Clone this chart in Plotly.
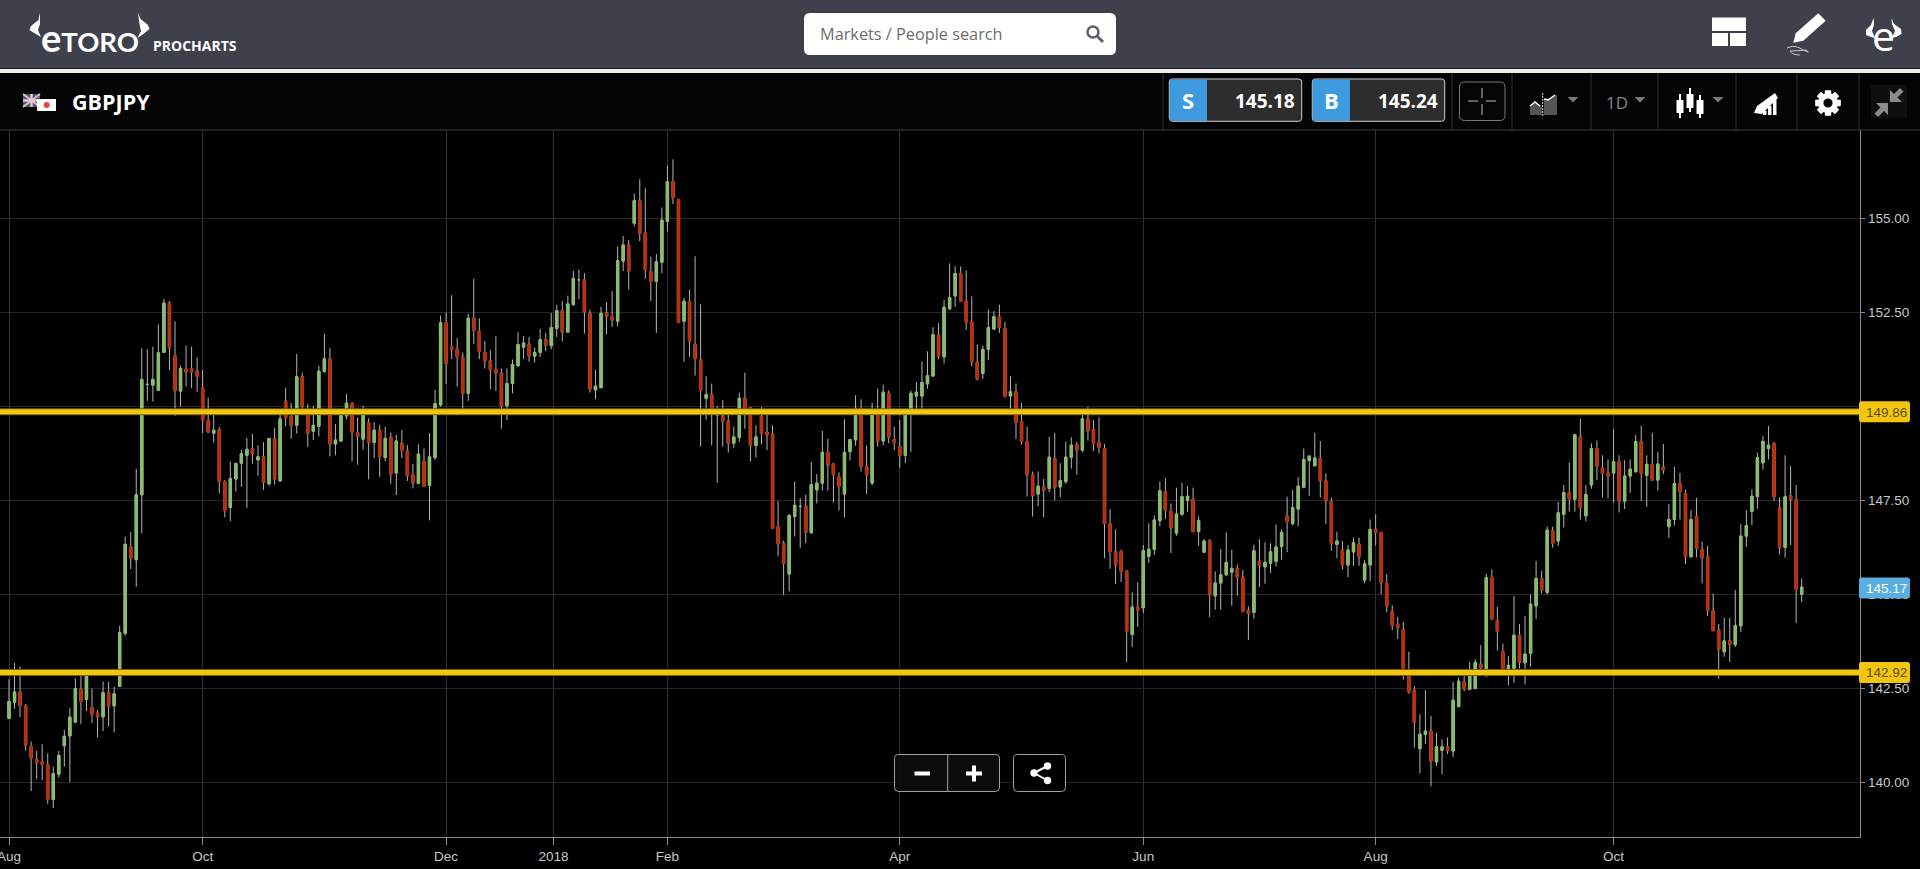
import math
import plotly.graph_objects as go

instrument = "GBPJPY"
sell_price = "145.18"
buy_price = "145.24"
level_upper = 149.86
level_lower = 142.92
last_price = 145.17

price_ticks = [140.0, 142.5, 145.0, 147.5, 150.0, 152.5, 155.0]
price_tick_labels = ["140.00", "142.50", "145.00", "147.50", "", "152.50", "155.00"]
date_tick_labels = ["Aug", "Oct", "Dec", "2018", "Feb", "Apr", "Jun", "Aug", "Oct"]
date_tick_candles = [0, 35, 79, 98.4, 119, 161, 205, 247, 290]

opens = [
141.70,142.13,142.40,142.03,140.95,140.61,140.54,140.46,139.54,140.21,
140.97,141.23,141.60,142.48,142.20,141.99,141.84,141.74,142.38,142.03,
142.55,143.96,146.26,145.92,147.65,150.59,150.57,150.43,151.44,152.75,
151.35,150.41,151.0,151.0,150.94,150.50,149.63,149.29,149.38,148.0,
147.31,148.07,148.49,148.70,148.87,148.58,148.66,147.94,149.14,148.02,
150.14,149.73,149.50,150.79,149.90,149.34,149.47,150.93,151.27,149.0,
149.08,149.75,150.07,149.31,149.13,149.57,149.04,149.37,148.64,149.18,
148.23,149.02,148.82,148.18,147.95,148.53,147.90,148.64,150.04,152.23,
151.58,151.52,151.32,150.35,152.35,152.0,151.44,151.21,150.98,150.89,
150.02,150.61,151.08,151.58,151.66,151.34,151.44,151.78,151.62,152.08,
152.55,151.98,152.71,153.37,153.37,152.48,150.44,150.50,152.49,152.39,
152.27,153.87,154.30,154.88,155.48,154.62,153.59,153.33,153.84,154.93,
155.99,155.51,152.27,152.80,151.65,151.24,150.22,150.32,149.78,149.75,
149.61,149.02,149.18,150.22,149.97,148.96,149.74,149.32,149.27,146.80,
146.36,145.54,147.07,147.34,147.35,146.64,147.78,147.96,148.78,148.47,
148.13,147.67,148.80,149.11,149.95,148.40,147.96,149.81,149.08,150.35,
149.12,148.93,148.70,149.81,150.28,150.28,150.60,150.81,151.91,151.32,
152.60,152.94,153.54,152.80,152.26,151.18,150.88,151.52,152.06,152.39,
152.07,150.28,150.39,149.60,149.07,148.18,147.67,147.86,147.82,148.62,
147.86,148.0,148.65,148.97,148.84,149.67,149.39,149.04,148.88,146.88,
146.13,146.14,145.62,143.93,144.66,144.64,146.01,146.20,146.96,147.73,
147.21,146.63,147.13,147.50,147.53,146.67,146.12,146.43,144.96,145.30,
145.52,145.59,145.68,145.46,144.57,144.52,145.88,145.73,145.83,145.88,
146.27,147.09,146.88,147.27,147.85,148.56,148.42,148.62,148.02,147.47,
146.33,146.18,145.78,146.13,146.34,145.38,145.78,146.73,146.65,145.29,
144.55,144.20,144.07,142.94,142.45,140.89,141.27,141.36,140.54,140.85,
140.94,140.83,142.01,142.67,142.47,142.49,143.14,143.02,145.45,144.30,
143.47,142.85,143.03,143.91,143.18,143.43,144.69,145.42,145.05,146.69,
146.42,147.13,147.71,147.53,149.19,147.09,147.91,148.88,148.36,148.23,
148.23,148.53,147.48,148.15,148.26,149.07,148.17,148.46,148.04,148.39,
146.80,146.99,147.95,147.68,146.0,147.08,146.19,146.0,144.56,144.05,
143.47,143.76,143.66,144.16,146.55,147.21,147.60,148.50,148.88,149.01,
147.31,146.25,147.62,147.52,145.0]

closes = [
142.15,142.40,142.04,140.98,140.64,140.52,140.47,139.54,140.23,140.71,
141.22,141.73,142.49,142.15,142.89,141.81,141.74,142.38,142.03,142.35,
143.98,146.33,145.96,147.65,150.72,150.59,150.72,151.43,152.75,151.56,
150.42,151.01,150.92,150.92,150.80,149.64,149.32,149.37,148.0,147.23,
148.08,148.48,148.74,148.86,148.75,148.66,147.98,149.15,148.07,149.67,
149.70,149.50,150.79,149.99,149.29,149.50,150.94,151.27,149.0,149.11,
149.76,150.09,149.32,149.20,149.79,149.04,149.37,148.67,149.15,148.21,
149.08,148.83,148.16,147.97,148.73,147.88,148.66,150.08,152.23,151.15,
151.51,151.32,150.35,152.35,152.02,151.47,151.21,150.98,150.89,150.0,
150.61,151.12,151.65,151.69,151.35,151.44,151.78,151.63,152.10,152.55,
151.98,152.73,153.41,153.37,152.52,150.46,150.54,152.48,152.40,152.30,
153.88,154.30,153.61,155.48,154.61,153.64,153.33,153.85,154.96,155.98,
155.56,152.24,152.80,151.73,151.28,150.42,150.32,149.90,149.78,149.61,
149.02,149.19,150.22,149.97,148.96,149.19,149.30,149.24,146.76,146.34,
145.82,147.10,147.37,147.34,146.65,147.92,147.96,148.78,148.44,148.18,
147.87,148.78,149.12,149.95,148.40,148.18,149.81,149.08,150.38,149.18,
149.04,148.70,149.81,150.35,150.38,150.64,150.82,151.91,151.34,152.64,
152.90,153.54,152.80,152.24,151.19,150.73,151.52,152.10,152.39,152.10,
150.27,150.39,149.58,149.07,148.18,147.62,147.88,147.77,148.65,147.85,
148.03,148.65,148.97,148.84,149.67,149.35,149.02,148.91,146.88,146.14,
145.78,145.61,144.01,144.66,144.58,146.16,146.20,146.98,147.76,147.25,
146.77,147.14,147.60,147.61,146.67,146.96,146.42,144.99,145.30,145.52,
145.85,145.69,145.46,144.55,144.49,146.16,145.77,145.85,146.13,146.26,
146.65,146.94,147.31,147.88,148.59,148.68,148.63,148.02,147.49,146.36,
146.42,145.78,146.18,146.37,146.0,145.81,146.73,146.65,145.31,144.69,
144.17,144.12,142.94,142.40,141.59,141.28,141.36,140.56,140.94,140.94,
140.85,142.18,142.69,142.48,142.98,143.19,143.04,145.44,144.35,144.02,
142.98,143.11,143.91,143.19,143.41,144.74,145.42,145.11,146.71,146.35,
147.17,147.71,147.54,149.25,147.31,147.66,148.88,148.41,148.22,148.15,
148.53,147.48,148.15,148.33,149.07,148.22,148.46,148.04,148.47,148.31,
146.99,147.95,147.73,146.0,146.99,146.22,145.97,144.58,144.03,143.53,
143.76,143.66,144.17,146.55,146.83,147.61,148.64,149.07,148.97,147.60,
146.25,147.60,147.53,145.13,145.19]

highs = [
142.74,143.17,143.08,142.08,141.08,140.83,141.01,140.77,140.41,140.83,
141.39,141.97,142.76,142.95,143.00,142.49,141.92,142.68,142.67,142.54,
144.16,146.53,146.66,148.34,151.55,151.52,151.59,152.18,152.86,152.80,
152.27,151.09,151.62,151.59,151.30,150.97,150.24,149.83,149.46,148.04,
148.54,148.51,148.85,149.16,149.27,148.97,149.05,149.15,149.43,149.81,
150.50,150.09,151.40,150.90,150.06,150.02,151.09,151.94,151.56,149.54,
149.85,150.33,150.12,149.71,150.02,149.69,149.58,149.51,149.46,149.31,
149.24,149.37,148.97,148.47,148.99,148.88,149.29,150.44,152.42,152.50,
152.96,151.82,151.44,152.47,153.40,152.35,151.74,151.50,151.87,151.01,
151.01,151.25,151.98,151.88,151.85,151.57,152.07,151.96,152.49,152.71,
152.81,152.95,153.61,153.64,153.55,152.58,150.98,152.65,152.78,153.07,
154.26,154.54,154.43,155.67,156.05,155.81,153.99,154.06,155.30,156.41,
156.58,155.51,152.89,153.11,154.0,152.72,150.81,150.61,150.01,150.17,
149.80,149.46,150.37,150.90,149.99,149.50,149.99,149.80,149.50,147.48,
146.43,147.14,148.0,147.56,147.65,148.53,148.20,149.35,149.14,148.50,
148.25,149.66,149.14,150.30,150.19,148.96,150.10,150.48,150.58,150.43,
149.46,149.64,149.90,150.42,150.65,151.20,151.47,152.11,152.22,152.84,
153.81,153.73,153.73,153.62,152.93,151.65,151.62,152.58,152.54,152.71,
152.25,150.81,150.61,150.10,149.46,148.27,148.27,148.07,149.19,149.30,
148.49,149.06,149.18,149.06,149.81,149.99,149.64,149.71,149.0,147.27,
146.73,146.19,145.63,145.05,145.32,146.31,146.89,147.10,148.0,148.10,
147.42,147.84,147.97,147.88,147.84,147.07,146.47,146.47,145.61,146.21,
146.65,146.19,145.79,145.65,144.68,146.32,146.47,146.38,146.36,146.86,
146.73,147.60,147.78,148.12,148.88,148.69,149.30,149.08,148.22,147.58,
146.67,146.42,146.31,146.51,146.51,145.91,146.99,147.13,146.65,145.54,
144.71,144.40,144.27,143.47,142.56,141.81,142.45,141.76,141.31,141.14,
141.19,142.67,142.79,142.87,143.20,143.27,143.65,145.55,145.66,144.67,
143.69,143.35,144.96,144.21,144.42,145.0,145.89,145.63,146.80,146.80,
147.46,147.91,148.51,149.26,149.68,147.91,149.02,149.09,148.70,148.59,
149.40,148.70,148.57,148.59,149.24,149.49,148.70,149.30,148.79,149.0,
147.40,148.39,148.23,147.79,147.24,147.57,146.40,146.29,145.02,144.21,
144.38,144.37,145.11,146.87,147.24,147.79,148.77,149.21,149.48,149.06,
147.58,148.70,148.42,147.91,145.42]

lows = [
141.67,141.95,141.73,140.84,139.76,140.08,140.05,139.42,139.31,140.12,
140.41,140.0,141.57,141.55,141.89,141.57,141.19,141.36,141.48,141.33,
142.54,143.90,145.67,145.20,146.63,150.15,150.13,150.43,151.42,150.97,
149.75,150.0,150.53,150.49,150.39,149.29,149.29,149.04,147.69,147.05,
146.95,147.74,147.86,147.30,148.48,148.16,147.78,147.89,147.92,148.0,
149.47,149.14,149.28,149.77,148.92,149.11,149.20,150.90,148.67,148.70,
149.08,149.66,148.54,148.45,148.85,148.06,148.63,148.13,148.54,147.94,
147.64,148.63,148.02,147.82,147.94,147.86,146.97,148.58,150.0,150.59,
151.26,150.53,149.77,150.15,151.66,151.26,151.01,150.46,150.41,149.41,
149.64,150.35,151.08,151.26,151.19,151.17,151.32,151.47,151.52,151.85,
151.73,151.98,152.69,152.86,151.94,150.37,150.19,150.50,151.92,152.12,
152.13,153.60,153.11,154.79,154.40,153.40,152.81,151.96,153.55,154.66,
155.39,152.24,151.19,151.32,150.82,148.93,149.65,148.96,147.97,148.93,
148.77,148.90,149.06,149.41,148.53,148.64,148.99,148.84,146.74,146.01,
144.98,145.08,146.54,146.23,146.36,146.61,147.42,147.76,147.76,147.44,
147.23,147.05,148.56,148.95,148.27,147.67,147.91,148.93,148.97,149.02,
148.84,148.37,148.49,148.79,149.94,149.94,150.48,150.79,151.26,151.14,
152.58,152.65,152.78,152.04,151.07,150.70,150.73,151.23,152.04,151.96,
150.24,149.95,149.13,148.99,147.60,147.07,147.35,147.05,147.72,147.50,
147.58,147.94,148.35,148.18,148.78,149.09,148.81,148.75,145.96,145.68,
145.27,145.33,143.19,143.60,144.13,144.50,145.83,146.05,146.81,147.0,
146.10,146.56,147.09,147.20,146.65,146.29,146.12,144.39,144.59,144.59,
145.48,144.70,144.96,144.52,143.78,144.35,145.19,145.28,145.57,145.74,
145.92,146.12,146.84,146.81,147.82,147.62,148.42,147.58,146.87,146.16,
145.96,145.66,145.45,145.76,145.76,145.29,145.35,146.30,145.0,144.52,
144.05,143.81,142.73,142.36,140.92,140.23,141.01,139.89,140.43,140.21,
140.75,140.67,142.01,142.42,142.45,142.49,143.0,142.80,144.31,143.50,
142.83,142.58,142.64,143.03,142.60,143.07,144.34,145.02,144.99,146.24,
146.29,146.78,147.20,147.20,146.99,146.94,147.81,148.04,147.58,147.55,
147.44,147.18,147.27,147.70,148.26,147.48,147.33,148.04,147.76,148.20,
146.50,146.83,146.99,145.80,145.98,145.98,145.29,144.42,144.03,142.76,
143.34,143.20,143.60,144.0,146.26,146.84,147.28,148.32,148.59,147.48,
146.06,145.98,146.31,144.24,144.80]

GREEN = "#87bd6c"
RED = "#bd2c06"
WICK = "#b4b4b4"
GOLD = "#f2c60e"
W, H = 1920, 869
PL, PR, PT, PB = 0, 1860, 130, 837

xs = list(range(len(opens)))
body_idx = [i for i in xs if opens[i] != closes[i]]

fig = go.Figure()
fig.add_trace(go.Candlestick(
    x=xs, open=opens, high=highs, low=lows, close=closes,
    increasing=dict(line=dict(color=WICK, width=1), fillcolor=WICK),
    decreasing=dict(line=dict(color=WICK, width=1), fillcolor=WICK),
    hoverinfo="skip", showlegend=False))
fig.add_trace(go.Candlestick(
    x=[xs[i] for i in body_idx],
    open=[opens[i] for i in body_idx],
    high=[max(opens[i], closes[i]) for i in body_idx],
    low=[min(opens[i], closes[i]) for i in body_idx],
    close=[closes[i] for i in body_idx],
    increasing=dict(line=dict(color=GREEN, width=1), fillcolor=GREEN),
    decreasing=dict(line=dict(color=RED, width=1), fillcolor=RED),
    hoverinfo="skip", showlegend=False))


def X(p):
    return (p - PL) / (PR - PL)


def Y(p):
    return (PB - p) / (PB - PT)


def poly(pts, close=True):
    s = "M" + " L".join(f"{X(a):.5f},{Y(b):.5f}" for a, b in pts)
    return s + (" Z" if close else "")


def rpath(x0, y0, x1, y1, r):
    def P(a, b):
        return f"{X(a):.5f},{Y(b):.5f}"
    return (f"M{P(x0 + r, y0)} L{P(x1 - r, y0)} Q{P(x1, y0)} {P(x1, y0 + r)} "
            f"L{P(x1, y1 - r)} Q{P(x1, y1)} {P(x1 - r, y1)} L{P(x0 + r, y1)} "
            f"Q{P(x0, y1)} {P(x0, y1 - r)} L{P(x0, y0 + r)} Q{P(x0, y0)} {P(x0 + r, y0)} Z")


shapes = []
annots = []


def path(d, fill=None, line=None, lw=0):
    shapes.append(dict(type="path", xref="paper", yref="paper", path=d,
                       fillcolor=fill or "rgba(0,0,0,0)",
                       line=dict(color=line or "rgba(0,0,0,0)", width=lw), layer="above"))


def rect(x0, y0, x1, y1, fill=None, line=None, lw=0):
    shapes.append(dict(type="rect", xref="paper", yref="paper", x0=X(x0), x1=X(x1), y0=Y(y1), y1=Y(y0),
                       fillcolor=fill or "rgba(0,0,0,0)",
                       line=dict(color=line or "rgba(0,0,0,0)", width=lw), layer="above"))


def circ(cx, cy, r, fill=None, line=None, lw=0):
    shapes.append(dict(type="circle", xref="paper", yref="paper", x0=X(cx - r), x1=X(cx + r),
                       y0=Y(cy + r), y1=Y(cy - r), fillcolor=fill or "rgba(0,0,0,0)",
                       line=dict(color=line or "rgba(0,0,0,0)", width=lw), layer="above"))


def seg(x0, y0, x1, y1, color, lw=1):
    shapes.append(dict(type="line", xref="paper", yref="paper", x0=X(x0), x1=X(x1), y0=Y(y0), y1=Y(y1),
                       line=dict(color=color, width=lw), layer="above"))


def text(s, x, y, size, color, family="Open Sans", anchor="left", bold=False):
    annots.append(dict(xref="paper", yref="paper", x=X(x), y=Y(y), text=f"<b>{s}</b>" if bold else s,
                       showarrow=False, xanchor=anchor, yanchor="middle",
                       font=dict(family=family, size=size, color=color), borderpad=0, borderwidth=0))


# 2018 grid line is brighter than the others
shapes.append(dict(type="line", xref="x", yref="paper", x0=date_tick_candles[3], x1=date_tick_candles[3],
                   y0=0, y1=1, line=dict(color="#565656", width=1), layer="below"))

# support and resistance lines
for lvl in (level_upper, level_lower):
    shapes.append(dict(type="line", xref="paper", yref="y", x0=0, x1=1, y0=lvl, y1=lvl,
                       line=dict(color="#75610a", width=7), layer="above"))
    shapes.append(dict(type="line", xref="paper", yref="y", x0=0, x1=1, y0=lvl, y1=lvl,
                       line=dict(color=GOLD, width=5), layer="above"))

# header chrome
HDR = "#3e414c"
rect(0, 0, W, 68, HDR)
rect(0, 68, W, 69, "#1c1c1c")
rect(0, 69, W, 73, "#efefef")
rect(0, 73, W, 130, "#040404")
seg(0, 130, W, 130, "#3c3c3c", 1)
for sx in (1163, 1452, 1512, 1591, 1658, 1736, 1797, 1859):
    seg(sx, 73, sx, 130, "#2c2c2c", 1)

# logo
text("<b><span style='font-size:38px'>e</span>TORO</b>", 40.5, 36.5, 27.5, "white", "Lato")
path(poly([(40, 12.5), (38.5, 20), (31, 26), (29.5, 30), (35, 33.5), (41, 37), (38, 30), (40, 24)]), "white")
path(poly([(138, 12.5), (140.5, 19), (148, 25), (149.5, 29), (144, 33.5), (137.5, 38), (141, 31), (139.5, 24)]), "white")
text("PROCHARTS", 152.5, 46, 14, "white", bold=True)

# search box
path(rpath(804, 13, 1116, 55, 6), "white")
text("Markets / People search", 820, 34, 16.3, "#6d6d6d")
circ(1093, 32, 5.5, None, "#5e626b", 2.5)
seg(1097, 36, 1103, 42, "#5e626b", 3)

# top-right icons
rect(1712, 17.5, 1746, 31, "white")
rect(1712, 33, 1728, 46, "white")
rect(1730, 33, 1746, 46, "white")
path(poly([(1793.3, 42.7), (1795.7, 33.3), (1818.3, 13.3), (1825.7, 20.7), (1803.3, 40.7)]), "white")
path(f"M{X(1787)},{Y(48)} Q{X(1795)},{Y(44)} {X(1803)},{Y(50)} Q{X(1812)},{Y(54)} {X(1806)},{Y(50)} Q{X(1795)},{Y(51)} {X(1790)},{Y(51)} Q{X(1792)},{Y(55)} {X(1800)},{Y(55)}",
     None, "#c8c8c8", 1)
text("e", 1883.5, 35, 41, "white", "Open Sans", "center")
path(poly([(1873.5, 18), (1871, 25), (1866, 30), (1866, 35), (1871, 37), (1875, 38), (1872, 31), (1874, 25)]), "white")
path(poly([(1891.5, 18), (1894, 24), (1901, 29), (1901.5, 34), (1896, 37), (1892, 38), (1895, 31), (1892, 24)]), "white")

# toolbar
rect(23, 94, 40, 107, "#55577f")
seg(23, 94, 40, 107, "#e8c7c9", 1.6)
seg(40, 94, 23, 107, "#e8c7c9", 1.6)
seg(31.5, 94, 31.5, 107, "#e8c7c9", 2.4)
seg(23, 100.5, 40, 100.5, "#e8c7c9", 2.4)
rect(37, 99, 56, 111, "white")
circ(46.7, 105, 3, "#e8423f")
text(instrument, 71.5, 102, 21.5, "white", bold=True)

for x0, x1, xb, letter, val in ((1169.3, 1301.7, 1207, "S", sell_price), (1312.3, 1444.7, 1350, "B", buy_price)):
    path(rpath(x0, 79, x1, 121.3, 3), "#2d2d2d", "#cfcfcf", 1)
    rect(x0 + 0.5, 79.5, xb, 121, "#3d9ade")
    text(letter, (x0 + xb) / 2, 100, 22, "white", anchor="center", bold=True)
    text(val, x1 - 7, 100.5, 19, "white", anchor="right", bold=True)
path(rpath(1459.5, 82, 1505, 120.5, 5), "#050505", "#787878", 1)
seg(1482, 88, 1482, 98, "#808080", 1.5)
seg(1482, 104, 1482, 115, "#808080", 1.5)
seg(1468, 101, 1478, 101, "#808080", 1.5)
seg(1486, 101, 1496, 101, "#808080", 1.5)

# chart type icon
path(poly([(1530, 115), (1530, 106), (1535, 102), (1540, 106), (1542, 107), (1542, 115)]), "#555555")
path(poly([(1544, 115), (1544, 99), (1548, 100), (1555, 95), (1557, 95), (1557, 115)]), "#555555")
path(poly([(1530, 106), (1535, 102), (1540, 106)], False), None, "white", 1.5)
path(poly([(1544, 99), (1548, 100), (1555, 95)], False), None, "white", 1.5)
shapes.append(dict(type="line", xref="paper", yref="paper", x0=X(1542.7), x1=X(1542.7), y0=Y(93), y1=Y(116),
                   line=dict(color="#dcdcdc", width=1, dash="2px,1px"), layer="above"))
for cx, cy in ((1573, 97), (1640, 97), (1718, 97)):
    path(poly([(cx - 5.5, cy), (cx + 5.5, cy), (cx, cy + 5.5)]), "#77797f")
text("1D", 1617, 103, 17, "#7b8794", anchor="center")
for cx, wt, wb, bt, bb in ((1680, 94, 118, 100, 113), (1690, 88, 112, 94, 108), (1700, 95, 118, 100, 114)):
    seg(cx, wt, cx, wb, "white", 2)
    rect(cx - 3.5, bt, cx + 3.5, bb, "white")
path(poly([(1754, 113), (1757, 106), (1775, 93), (1778, 98), (1762, 114)]), "white")
for bx, bt in ((1763, 111), (1768, 106), (1773, 100)):
    rect(bx, bt, bx + 3.5, 115, "white")

# gear
gear = []
for k in range(8):
    a = k * math.pi / 4
    for da, r in ((-0.32, 10), (-0.24, 13.2), (0.24, 13.2), (0.32, 10)):
        gear.append((1828 + r * math.cos(a + da), 103 + r * math.sin(a + da)))
path(poly(gear), "white")
circ(1828, 103, 4.6, "#040404")

# compress icon, both arrows point inward
rect(1871, 85, 1907, 118, "#0f0f0f")
path(poly([(1890, 102), (1890, 90), (1894, 94), (1900, 88), (1903.5, 91.5), (1897.5, 97.5), (1902, 102)]), "#8c8c8c")
path(poly([(1888, 103), (1888, 115), (1884, 111), (1878, 117), (1874.5, 113.5), (1880.5, 107.5), (1876, 103)]), "#8c8c8c")

# price tags
for lvl, col, tcol in ((level_upper, GOLD, "#5c4f10"), (last_price, "#5aaee0", "white"), (level_lower, GOLD, "#5c4f10")):
    py = PB - (lvl - 138.54) * (PB - PT) / (157.36 - 138.54)
    path(rpath(1859, py - 10.5, 1910, py + 10.5, 2.5), col)
    text(f"{lvl:.2f}", 1907, py + 0.5, 13.5, tcol, "Liberation Sans", "right")

# zoom and share buttons
path(rpath(894.5, 754.5, 999.5, 791.5, 4), "rgba(12,12,12,0.93)", "#a2a2a2", 1)
seg(947.7, 755, 947.7, 791, "#a2a2a2", 1)
path(rpath(1013.5, 754.5, 1065.5, 791.5, 4), "rgba(0,0,0,0.9)", "#a2a2a2", 1)
rect(914.5, 771.5, 930, 775.5, "white")
rect(966, 771.5, 982, 775.5, "white")
rect(972, 765.5, 976, 781.5, "white")
seg(1034, 773, 1047.5, 766, "white", 2)
seg(1034, 773, 1047.5, 780.5, "white", 2)
circ(1034, 773, 3.7, "white")
circ(1047.5, 766, 3.7, "white")
circ(1047.5, 780.5, 3.7, "white")

fig.update_layout(
    width=W, height=H, margin=dict(l=PL, r=W - PR, t=PT, b=H - PB, pad=0, autoexpand=False),
    paper_bgcolor="#000000", plot_bgcolor="#000000", showlegend=False,
    boxgap=0.4, hovermode=False, dragmode=False,
    shapes=shapes, annotations=annots,
    xaxis=dict(type="linear", range=[-1.627, 334.54], rangeslider=dict(visible=False),
               tickmode="array", tickvals=date_tick_candles, ticktext=date_tick_labels,
               ticklabeloverflow="allow",
               showgrid=True, gridcolor="#303030", gridwidth=1, zeroline=False,
               showline=True, linecolor="#8c8c8c", linewidth=1.2,
               ticks="outside", ticklen=7, tickwidth=1, tickcolor="#8c8c8c",
               tickfont=dict(family="Liberation Sans", size=13.5, color="#c8c8c8")),
    yaxis=dict(side="right", range=[138.54, 157.36], tickmode="array", tickvals=price_ticks,
               ticktext=price_tick_labels,
               showgrid=True, gridcolor="#262626", gridwidth=1, zeroline=False,
               showline=True, linecolor="#8c8c8c", linewidth=1.2,
               ticks="outside", ticklen=4, tickwidth=1, tickcolor="#8c8c8c",
               tickfont=dict(family="Liberation Sans", size=13.5, color="#c8c8c8")),
)

fig.write_html("out.html", config=dict(displayModeBar=False, staticPlot=True),
               post_script="document.body.style.margin='0';document.body.style.background='#000';document.body.style.overflow='hidden';")
